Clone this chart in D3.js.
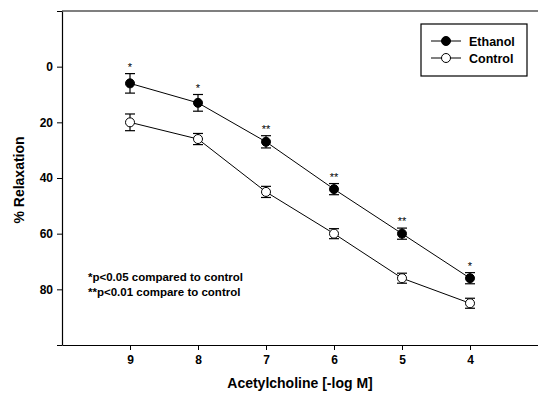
<!DOCTYPE html>
<html>
<head>
<meta charset="utf-8">
<script src="https://cdnjs.cloudflare.com/ajax/libs/d3/7.8.5/d3.min.js"></script>
<style>
  body { margin: 0; background: #fff; }
  svg { font-family: "Liberation Sans", Arial, sans-serif; }
  .tick text { font-weight: bold; font-size: 12px; fill: #000; }
</style>
</head>
<body>
<svg id="chart" width="538" height="394"></svg>
<script>
// concentrations (-log M)
const doses = [9, 8, 7, 6, 5, 4];
const ethanolMean = [6, 13, 27, 44, 60, 76];
const ethanolErr = [3.5, 3, 2.2, 2, 2, 2];
const controlMean = [20, 26, 45, 60, 76, 85];
const controlErr = [3, 2, 2, 1.8, 1.8, 1.8];
const stars = ['*', '*', '**', '**', '**', '*'];
const yTicks = [0, 20, 40, 60, 80];
const notes = ['*p<0.05 compared to control', '**p<0.01 compare to control'];

const svg = d3.select('#chart');
const plotLeft = 62, plotRight = 538, plotTop = 11, plotBottom = 345;

const x = d3.scaleLinear().domain([10, 3]).range([plotLeft, plotRight]);
const y = d3.scaleLinear().domain([-20, 100]).range([plotTop, plotBottom]);

// top frame line
svg.append('line')
    .attr('x1', plotLeft).attr('x2', plotRight)
    .attr('y1', plotTop).attr('y2', plotTop)
    .attr('stroke', '#000').attr('stroke-width', 1.2);

// y axis
const yAxis = svg.append('g')
    .attr('transform', `translate(${plotLeft},0)`)
    .call(d3.axisLeft(y).tickValues([-20, ...yTicks, 100]).tickSize(5).tickSizeOuter(0).tickPadding(4)
        .tickFormat(d => yTicks.includes(d) ? d : ''));
yAxis.select('.domain').attr('stroke-width', 1.2);

// x axis
const xAxis = svg.append('g')
    .attr('transform', `translate(0,${plotBottom})`)
    .call(d3.axisBottom(x).tickValues(doses).tickSize(5).tickSizeOuter(0).tickPadding(5)
        .tickFormat(d3.format('d')));
xAxis.select('.domain').attr('stroke-width', 1.2);

// axis titles
svg.append('text')
    .attr('x', 300).attr('y', 388)
    .attr('text-anchor', 'middle')
    .attr('font-weight', 'bold').attr('font-size', 14)
    .text('Acetylcholine [-log M]');

svg.append('text')
    .attr('transform', 'translate(24,180) rotate(-90)')
    .attr('text-anchor', 'middle')
    .attr('font-weight', 'bold').attr('font-size', 14)
    .text('% Relaxation');

// series
const series = [
    { name: 'Ethanol', mean: ethanolMean, err: ethanolErr, fill: '#000' },
    { name: 'Control', mean: controlMean, err: controlErr, fill: '#fff' }
];

const line = d3.line().x(d => x(d.dose)).y(d => y(d.mean));

series.forEach(s => {
    const pts = doses.map((dose, i) => ({ dose, mean: s.mean[i], err: s.err[i] }));

    svg.append('path')
        .datum(pts)
        .attr('d', line)
        .attr('fill', 'none')
        .attr('stroke', '#000')
        .attr('stroke-width', 1);

    const eb = svg.append('g').selectAll('g')
        .data(pts)
        .join('g')
        .attr('stroke', '#000')
        .attr('stroke-width', 1.2);

    eb.append('line')
        .attr('x1', d => x(d.dose)).attr('x2', d => x(d.dose))
        .attr('y1', d => y(d.mean - d.err)).attr('y2', d => y(d.mean + d.err));
    eb.append('line')
        .attr('x1', d => x(d.dose) - 5).attr('x2', d => x(d.dose) + 5)
        .attr('y1', d => y(d.mean - d.err)).attr('y2', d => y(d.mean - d.err));
    eb.append('line')
        .attr('x1', d => x(d.dose) - 5).attr('x2', d => x(d.dose) + 5)
        .attr('y1', d => y(d.mean + d.err)).attr('y2', d => y(d.mean + d.err));

    svg.append('g').selectAll('circle')
        .data(pts)
        .join('circle')
        .attr('cx', d => x(d.dose))
        .attr('cy', d => y(d.mean))
        .attr('r', 4.5)
        .attr('fill', s.fill)
        .attr('stroke', '#000')
        .attr('stroke-width', 1);
});

// significance marks
svg.append('g').selectAll('text')
    .data(doses)
    .join('text')
    .attr('x', d => x(d))
    .attr('y', (d, i) => y(ethanolMean[i] - ethanolErr[i]) - 3)
    .attr('text-anchor', 'middle')
    .attr('font-size', 11)
    .attr('fill', '#000')
    .text((d, i) => stars[i]);

// notes
svg.append('g').selectAll('text')
    .data(notes)
    .join('text')
    .attr('x', 88)
    .attr('y', (d, i) => 281 + i * 15)
    .attr('font-weight', 'bold')
    .attr('font-size', 11.5)
    .text(d => d);

// legend
const legend = svg.append('g');
legend.append('rect')
    .attr('x', 421).attr('y', 24)
    .attr('width', 106).attr('height', 52)
    .attr('fill', '#fff').attr('stroke', '#000').attr('stroke-width', 1.2);

series.forEach((s, i) => {
    const ly = 41 + i * 17;
    legend.append('line')
        .attr('x1', 431).attr('x2', 461)
        .attr('y1', ly).attr('y2', ly)
        .attr('stroke', '#000');
    legend.append('circle')
        .attr('cx', 446).attr('cy', ly).attr('r', 4.5)
        .attr('fill', s.fill).attr('stroke', '#000');
    legend.append('text')
        .attr('x', 469).attr('y', ly + 4.5)
        .attr('font-weight', 'bold').attr('font-size', 12.5)
        .text(s.name);
});
</script>
</body>
</html>
